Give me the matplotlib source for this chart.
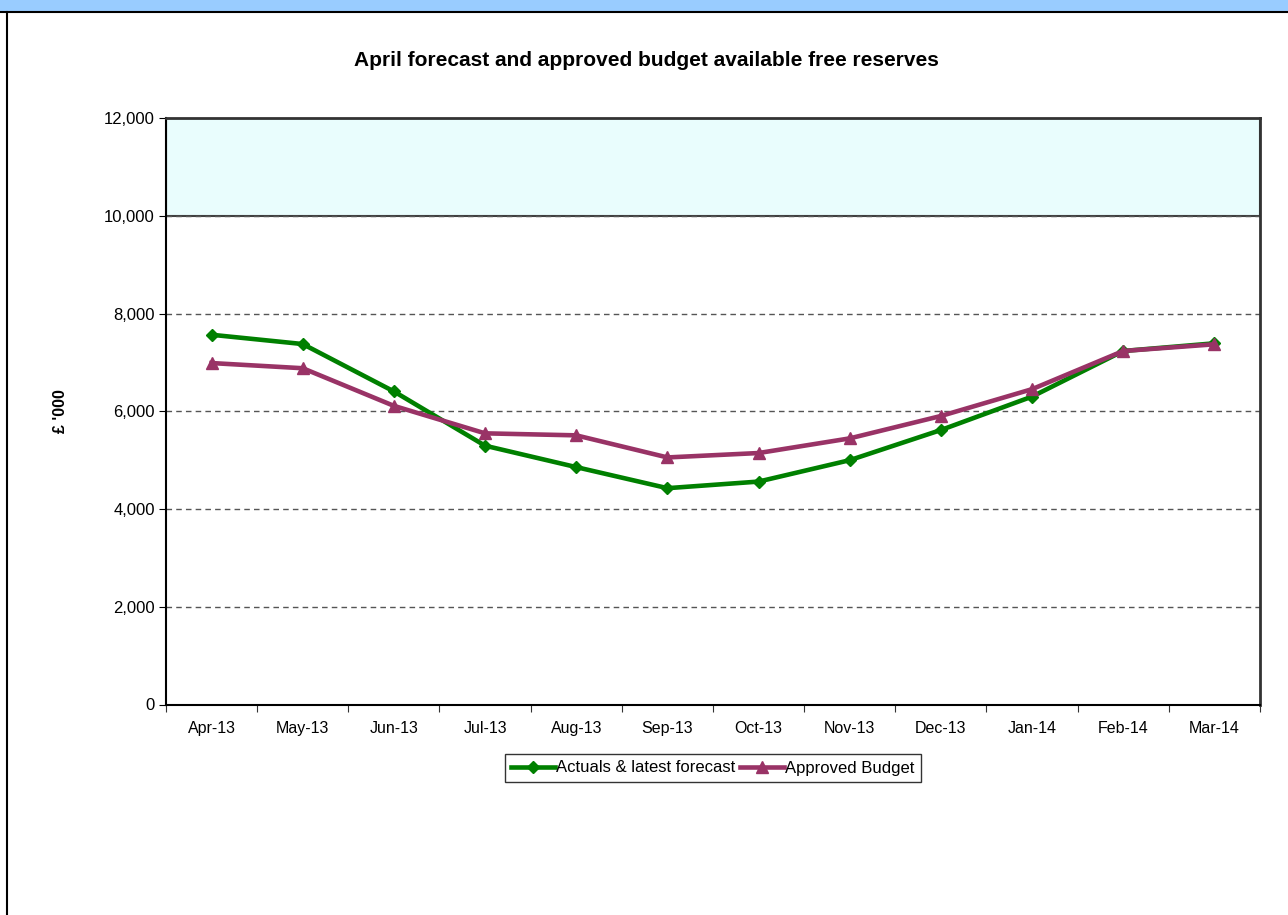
import matplotlib.pyplot as plt
from matplotlib.lines import Line2D
from matplotlib.patches import Rectangle

months = ['Apr-13', 'May-13', 'Jun-13', 'Jul-13', 'Aug-13', 'Sep-13',
          'Oct-13', 'Nov-13', 'Dec-13', 'Jan-14', 'Feb-14', 'Mar-14']
actuals = [7565, 7375, 6405, 5295, 4857, 4426, 4561, 4999, 5616, 6300, 7233, 7390]
budget = [6986, 6880, 6110, 5548, 5507, 5055, 5145, 5445, 5903, 6452, 7233, 7370]

# target range for free reserves (shaded band)
band_low = 10000
band_high = 12000

GREEN = '#008000'
PLUM = '#993366'

plt.rcParams['font.family'] = ['Liberation Sans', 'DejaVu Sans']

fig = plt.figure(figsize=(12.88, 9.15), dpi=100)
ax = fig.add_axes([166 / 1288, 1 - 704.5 / 915, (1260 - 166) / 1288, (704.5 - 118) / 915])

# sheet decoration: header strip and left border
fig.patches.append(Rectangle((0, 1 - 11 / 915), 1, 11 / 915, transform=fig.transFigure,
                             facecolor='#99CCFF', edgecolor='none', zorder=0))
fig.add_artist(Line2D([0, 1], [1 - 12 / 915, 1 - 12 / 915], transform=fig.transFigure,
                      color='black', lw=1.5))
fig.add_artist(Line2D([7 / 1288, 7 / 1288], [0, 1 - 12 / 915], transform=fig.transFigure,
                      color='black', lw=1.5))

x = list(range(len(months)))

ax.axhspan(band_low, band_high, facecolor='#E9FDFD', edgecolor='#404040', lw=1.5, zorder=1)

for v in range(2000, 12000, 2000):
    ax.axhline(v, color='#555555', lw=1, ls=(0, (4, 3)), zorder=2)

ax.plot(x, actuals, color=GREEN, lw=3.3, marker='D', markersize=6,
        label='Actuals & latest forecast', zorder=4)
ax.plot(x, budget, color=PLUM, lw=3.3, marker='^', markersize=8,
        label='Approved Budget', zorder=5)

ax.set_xlim(-0.5, len(months) - 0.5)
ax.set_ylim(0, 12000)
ax.set_yticks(range(0, 12001, 2000))
ax.set_yticklabels(['{:,}'.format(v) for v in range(0, 12001, 2000)])
ax.set_xticks([i - 0.5 for i in range(len(months) + 1)])
ax.set_xticklabels([])
ax.set_xticks(x, minor=True)
ax.set_xticklabels(months, minor=True)
ax.tick_params(axis='x', which='minor', length=0, pad=12, labelsize=11.5)
ax.tick_params(axis='x', which='major', length=5, color='#333333')
ax.tick_params(axis='y', length=5, pad=3, labelsize=12)

for side in ['left', 'bottom']:
    ax.spines[side].set_linewidth(1.5)
    ax.spines[side].set_color('black')
for side in ['top', 'right']:
    ax.spines[side].set_linewidth(2)
    ax.spines[side].set_color('#333333')

ax.set_ylabel("£ '000", fontsize=11.5, fontweight='bold', labelpad=26)
fig.text(646 / 1288, 1 - 60 / 915, 'April forecast and approved budget available free reserves',
         ha='center', va='center', fontsize=15, fontweight='bold')

leg = fig.legend(loc='center', bbox_to_anchor=(713 / 1288, 1 - 768 / 915), ncol=2,
                 fontsize=12, frameon=True, fancybox=False, edgecolor='black',
                 handlelength=2.6, handletextpad=0.1, columnspacing=0.3,
                 borderpad=0.4, borderaxespad=0)
leg.get_frame().set_linewidth(1)

fig.savefig('out.png', dpi=100)
